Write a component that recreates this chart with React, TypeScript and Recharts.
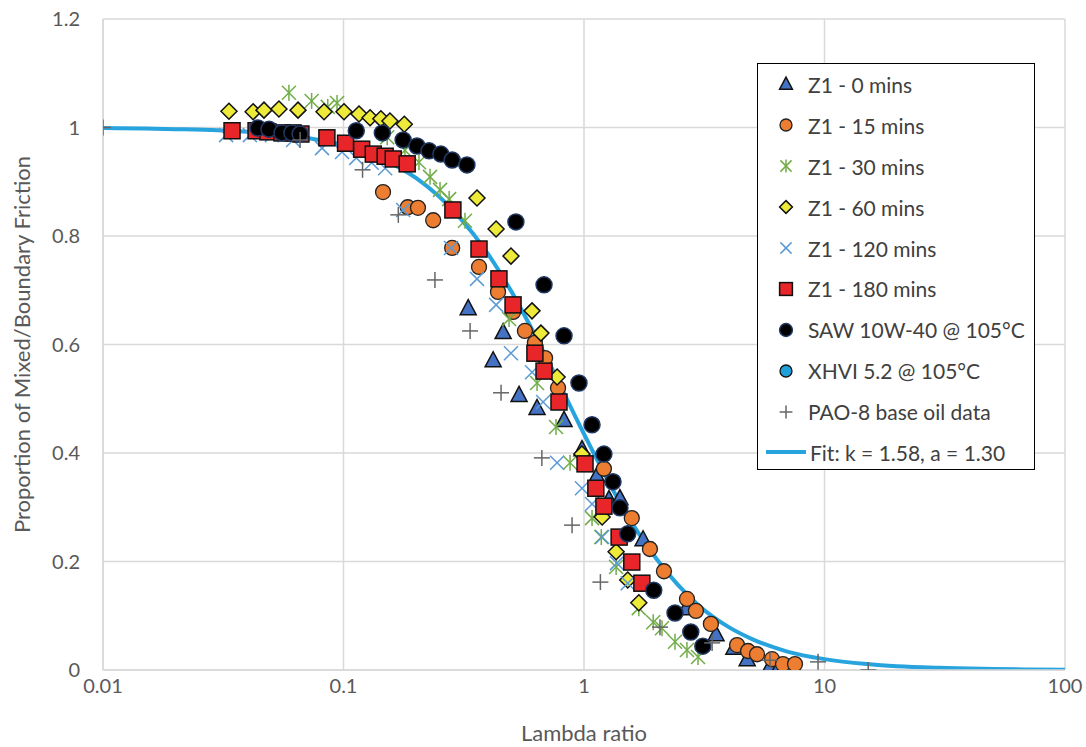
import React from 'react';
import { ComposedChart, Scatter, Line, XAxis, YAxis, CartesianGrid, Legend } from 'recharts';

// Lambda ratio (x) vs proportion of mixed/boundary friction (y)
const xTicks = [0.01, 0.1, 1, 10, 100];
const yTicks = [0, 0.2, 0.4, 0.6, 0.8, 1, 1.2];

const z1_0min = [
  { x: 0.33, y: 0.667 }, { x: 0.419, y: 0.571 }, { x: 0.461, y: 0.623 }, { x: 0.537, y: 0.507 },
  { x: 0.638, y: 0.483 }, { x: 0.826, y: 0.461 }, { x: 0.981, y: 0.407 }, { x: 1.13, y: 0.358 },
  { x: 1.27, y: 0.315 }, { x: 1.41, y: 0.317 }, { x: 1.76, y: 0.241 }, { x: 2.66, y: 0.114 },
  { x: 3.54, y: 0.066 }, { x: 4.2, y: 0.041 }, { x: 4.77, y: 0.02 }, { x: 5.94, y: 0.007 },
  { x: 6.47, y: 0.006 }, { x: 7.54, y: 0.0 },
];

const z1_15min = [
  { x: 0.146, y: 0.881 }, { x: 0.185, y: 0.853 }, { x: 0.204, y: 0.852 }, { x: 0.236, y: 0.829 },
  { x: 0.283, y: 0.778 }, { x: 0.366, y: 0.743 }, { x: 0.439, y: 0.697 }, { x: 0.507, y: 0.66 },
  { x: 0.568, y: 0.625 }, { x: 0.625, y: 0.603 }, { x: 0.689, y: 0.575 }, { x: 0.78, y: 0.52 },
  { x: 1.21, y: 0.371 }, { x: 1.58, y: 0.28 }, { x: 1.88, y: 0.223 }, { x: 2.15, y: 0.182 },
  { x: 2.68, y: 0.131 }, { x: 2.92, y: 0.109 }, { x: 3.37, y: 0.085 }, { x: 4.33, y: 0.046 },
  { x: 4.81, y: 0.035 }, { x: 5.24, y: 0.029 }, { x: 6.05, y: 0.02 }, { x: 6.72, y: 0.011 },
  { x: 7.54, y: 0.011 },
];

const z1_30min = [
  { x: 0.0593, y: 1.064 }, { x: 0.0737, y: 1.049 }, { x: 0.086, y: 1.038 }, { x: 0.094, y: 1.045 },
  { x: 0.152, y: 0.982 }, { x: 0.18, y: 0.958 }, { x: 0.206, y: 0.936 }, { x: 0.229, y: 0.909 },
  { x: 0.252, y: 0.885 }, { x: 0.275, y: 0.868 }, { x: 0.32, y: 0.828 }, { x: 0.488, y: 0.647 },
  { x: 0.638, y: 0.529 }, { x: 0.765, y: 0.448 }, { x: 0.875, y: 0.382 }, { x: 1.08, y: 0.28 },
  { x: 1.18, y: 0.245 }, { x: 1.36, y: 0.19 }, { x: 1.69, y: 0.114 }, { x: 1.94, y: 0.088 },
  { x: 2.11, y: 0.077 }, { x: 2.39, y: 0.052 }, { x: 2.68, y: 0.037 }, { x: 2.98, y: 0.024 },
];

const z1_60min = [
  { x: 0.0334, y: 1.03 }, { x: 0.0421, y: 1.029 }, { x: 0.0467, y: 1.032 }, { x: 0.0539, y: 1.034 },
  { x: 0.0647, y: 1.032 }, { x: 0.083, y: 1.029 }, { x: 0.1005, y: 1.029 }, { x: 0.116, y: 1.025 },
  { x: 0.129, y: 1.018 }, { x: 0.143, y: 1.016 }, { x: 0.156, y: 1.012 }, { x: 0.179, y: 1.006 },
  { x: 0.359, y: 0.87 }, { x: 0.431, y: 0.813 }, { x: 0.497, y: 0.763 }, { x: 0.608, y: 0.662 },
  { x: 0.662, y: 0.621 }, { x: 0.773, y: 0.54 }, { x: 0.98, y: 0.398 }, { x: 1.19, y: 0.282 },
  { x: 1.36, y: 0.218 }, { x: 1.52, y: 0.166 }, { x: 1.69, y: 0.124 },
];

const z1_120min = [
  { x: 0.0325, y: 0.986 }, { x: 0.0408, y: 0.986 }, { x: 0.0504, y: 0.986 }, { x: 0.0617, y: 0.977 },
  { x: 0.0814, y: 0.962 }, { x: 0.0986, y: 0.955 }, { x: 0.113, y: 0.944 }, { x: 0.131, y: 0.935 },
  { x: 0.149, y: 0.925 }, { x: 0.177, y: 0.848 }, { x: 0.28, y: 0.778 }, { x: 0.359, y: 0.721 },
  { x: 0.431, y: 0.673 }, { x: 0.497, y: 0.584 }, { x: 0.608, y: 0.549 }, { x: 0.676, y: 0.494 },
  { x: 0.773, y: 0.382 }, { x: 0.981, y: 0.335 }, { x: 1.08, y: 0.306 }, { x: 1.19, y: 0.245 },
  { x: 1.37, y: 0.197 }, { x: 1.52, y: 0.16 },
];

const z1_180min = [
  { x: 0.0344, y: 0.994 }, { x: 0.0433, y: 0.994 }, { x: 0.0485, y: 0.992 }, { x: 0.0555, y: 0.99 },
  { x: 0.0617, y: 0.99 }, { x: 0.0665, y: 0.988 }, { x: 0.0853, y: 0.981 }, { x: 0.102, y: 0.971 },
  { x: 0.119, y: 0.96 }, { x: 0.133, y: 0.951 }, { x: 0.149, y: 0.947 }, { x: 0.161, y: 0.942 },
  { x: 0.184, y: 0.933 }, { x: 0.285, y: 0.848 }, { x: 0.366, y: 0.776 }, { x: 0.443, y: 0.721 },
  { x: 0.507, y: 0.673 }, { x: 0.625, y: 0.584 }, { x: 0.682, y: 0.551 }, { x: 0.787, y: 0.494 },
  { x: 1.01, y: 0.38 }, { x: 1.12, y: 0.335 }, { x: 1.21, y: 0.302 }, { x: 1.4, y: 0.245 },
  { x: 1.58, y: 0.199 }, { x: 1.74, y: 0.16 },
];

const saw10w40 = [
  { x: 0.0441, y: 0.999 }, { x: 0.049, y: 0.997 }, { x: 0.0555, y: 0.99 }, { x: 0.061, y: 0.99 },
  { x: 0.066, y: 0.988 }, { x: 0.113, y: 0.994 }, { x: 0.145, y: 0.99 }, { x: 0.177, y: 0.977 },
  { x: 0.202, y: 0.966 }, { x: 0.227, y: 0.957 }, { x: 0.254, y: 0.951 }, { x: 0.283, y: 0.94 },
  { x: 0.326, y: 0.931 }, { x: 0.521, y: 0.826 }, { x: 0.682, y: 0.71 }, { x: 0.826, y: 0.616 },
  { x: 0.953, y: 0.529 }, { x: 1.08, y: 0.452 }, { x: 1.21, y: 0.398 }, { x: 1.32, y: 0.347 },
  { x: 1.41, y: 0.299 }, { x: 1.52, y: 0.251 }, { x: 1.95, y: 0.147 }, { x: 2.39, y: 0.105 },
  { x: 2.78, y: 0.07 }, { x: 3.12, y: 0.044 },
];

const xhvi52: { x: number; y: number }[] = [];

const pao8 = [
  { x: 0.01, y: 1.0 }, { x: 0.066, y: 0.977 }, { x: 0.12, y: 0.922 }, { x: 0.169, y: 0.839 },
  { x: 0.24, y: 0.719 }, { x: 0.336, y: 0.625 }, { x: 0.452, y: 0.511 }, { x: 0.668, y: 0.391 },
  { x: 0.892, y: 0.267 }, { x: 1.17, y: 0.162 }, { x: 2.07, y: 0.079 }, { x: 3.41, y: 0.05 },
  { x: 5.94, y: 0.018 }, { x: 9.4, y: 0.015 }, { x: 15.2, y: 0.0 },
];

const fitCurve = [
  { x: 0.01, y: 0.999 }, { x: 0.015, y: 0.998 }, { x: 0.02, y: 0.997 }, { x: 0.03, y: 0.995 },
  { x: 0.05, y: 0.989 }, { x: 0.07, y: 0.981 }, { x: 0.1, y: 0.967 }, { x: 0.15, y: 0.939 },
  { x: 0.2, y: 0.907 }, { x: 0.3, y: 0.837 }, { x: 0.4, y: 0.766 }, { x: 0.5, y: 0.697 },
  { x: 0.7, y: 0.575 }, { x: 1, y: 0.435 }, { x: 1.5, y: 0.288 }, { x: 2, y: 0.205 },
  { x: 3, y: 0.119 }, { x: 4, y: 0.079 }, { x: 5, y: 0.057 }, { x: 7, y: 0.034 },
  { x: 10, y: 0.02 }, { x: 15, y: 0.011 }, { x: 20, y: 0.007 }, { x: 30, y: 0.004 },
  { x: 50, y: 0.002 }, { x: 70, y: 0.001 }, { x: 100, y: 0.0005 },
];

const FONT = 'Lato, "Open Sans", sans-serif';
const GRID = '#d9d9d9';
const FIT_BLUE = '#27a3dd';

const Triangle = ({ cx, cy, s = 1 }: any) => (
  <polygon points={`${cx},${cy - 8.5 * s} ${cx - 8 * s},${cy + 6.5 * s} ${cx + 8 * s},${cy + 6.5 * s}`} fill="#4472c4" stroke="#111" strokeWidth={1.5} />
);
const OrangeDot = ({ cx, cy, s = 1 }: any) => (
  <circle cx={cx} cy={cy} r={7.5 * s} fill="#ed7d31" stroke="#222" strokeWidth={1.3} />
);
const Asterisk = ({ cx, cy, s = 1 }: any) => (
  <g stroke="#70ad47" strokeWidth={1.5}>
    <line x1={cx} y1={cy - 8 * s} x2={cx} y2={cy + 8 * s} />
    <line x1={cx - 7 * s} y1={cy - 7 * s} x2={cx + 7 * s} y2={cy + 7 * s} />
    <line x1={cx - 7 * s} y1={cy + 7 * s} x2={cx + 7 * s} y2={cy - 7 * s} />
  </g>
);
const Diamond = ({ cx, cy, s = 1 }: any) => (
  <polygon points={`${cx},${cy - 8 * s} ${cx + 8 * s},${cy} ${cx},${cy + 8 * s} ${cx - 8 * s},${cy}`} fill="#eeea3a" stroke="#111" strokeWidth={1.5} />
);
const Cross = ({ cx, cy, s = 1 }: any) => (
  <g stroke="#5b9bd5" strokeWidth={1.5}>
    <line x1={cx - 7 * s} y1={cy - 7 * s} x2={cx + 7 * s} y2={cy + 7 * s} />
    <line x1={cx - 7 * s} y1={cy + 7 * s} x2={cx + 7 * s} y2={cy - 7 * s} />
  </g>
);
const Square = ({ cx, cy, s = 1 }: any) => (
  <rect x={cx - 8 * s} y={cy - 8 * s} width={16 * s} height={16 * s} fill="#e8262a" stroke="#111" strokeWidth={1.5} />
);
const BlackDot = ({ cx, cy, s = 1 }: any) => (
  <circle cx={cx} cy={cy} r={8 * s} fill="#000" stroke="#1f3864" strokeWidth={1.5} />
);
const BlueDot = ({ cx, cy, s = 1 }: any) => (
  <circle cx={cx} cy={cy} r={7.5 * s} fill="#1ea0db" stroke="#111" strokeWidth={1.3} />
);
const Plus = ({ cx, cy, s = 1 }: any) => (
  <g stroke="#666" strokeWidth={1.5}>
    <line x1={cx - 8 * s} y1={cy} x2={cx + 8 * s} y2={cy} />
    <line x1={cx} y1={cy - 8 * s} x2={cx} y2={cy + 8 * s} />
  </g>
);

const legendRows = [
  { name: 'Z1 - 0 mins', Icon: Triangle },
  { name: 'Z1 - 15 mins', Icon: OrangeDot },
  { name: 'Z1 - 30 mins', Icon: Asterisk },
  { name: 'Z1 - 60 mins', Icon: Diamond },
  { name: 'Z1 - 120 mins', Icon: Cross },
  { name: 'Z1 - 180 mins', Icon: Square },
  { name: 'SAW 10W-40 @ 105°C', Icon: BlackDot },
  { name: 'XHVI 5.2 @ 105°C', Icon: BlueDot },
  { name: 'PAO-8 base oil data', Icon: Plus },
];

const renderLegend = () => (
  <div style={{ width: 276, height: 405, border: '1px solid #000', background: '#fff', fontFamily: FONT, fontSize: 21, color: '#404040' }}>
    {legendRows.map(({ name, Icon }) => (
      <div key={name} style={{ height: 40.9, display: 'flex', alignItems: 'center' }}>
        <svg width={50} height={40} style={{ flex: 'none' }}>
          <Icon cx={28} cy={20} s={0.8} />
        </svg>
        <span>{name}</span>
      </div>
    ))}
    <div style={{ height: 40.9, display: 'flex', alignItems: 'center' }}>
      <svg width={52} height={40} style={{ flex: 'none' }}>
        <line x1={8} y1={20} x2={48} y2={20} stroke={FIT_BLUE} strokeWidth={4} />
      </svg>
      <span>Fit: k = 1.58, a = 1.30</span>
    </div>
  </div>
);

const tickStyle = { fill: '#595959', fontSize: 20, fontFamily: FONT };
const titleStyle = { fill: '#595959', fontSize: 22, fontFamily: FONT };

export default function App() {
  return (
    <div style={{ position: 'absolute', left: 0, top: 0, background: '#fff' }}>
      <ComposedChart width={1086} height={747} margin={{ top: 19, right: 21, bottom: 0, left: 0 }}>
        <CartesianGrid stroke={GRID} strokeWidth={1.5} />
        <XAxis
          type="number"
          dataKey="x"
          scale="log"
          domain={[0.01, 100]}
          ticks={xTicks}
          allowDataOverflow
          height={77}
          axisLine={{ stroke: GRID, strokeWidth: 1.5 }}
          tickLine={false}
          tickSize={0}
          tickMargin={9}
          tick={tickStyle}
          label={{ value: 'Lambda ratio', position: 'insideBottom', offset: 6, style: titleStyle }}
        />
        <YAxis
          type="number"
          dataKey="y"
          domain={[0, 1.2]}
          ticks={yTicks}
          allowDataOverflow
          width={103}
          axisLine={{ stroke: GRID, strokeWidth: 1.5 }}
          tickLine={false}
          tickSize={0}
          tickMargin={23}
          tick={tickStyle}
          label={{ value: 'Proportion of Mixed/Boundary Friction', angle: -90, position: 'insideLeft', offset: 22, style: { ...titleStyle, textAnchor: 'middle' } }}
        />
        <Line data={fitCurve} dataKey="y" type="monotone" stroke={FIT_BLUE} strokeWidth={4} dot={false} activeDot={false} isAnimationActive={false} />
        <Scatter name="Z1 - 0 mins" data={z1_0min} shape={(p: any) => <Triangle cx={p.cx} cy={p.cy} />} isAnimationActive={false} />
        <Scatter name="Z1 - 15 mins" data={z1_15min} shape={(p: any) => <OrangeDot cx={p.cx} cy={p.cy} />} isAnimationActive={false} />
        <Scatter name="Z1 - 30 mins" data={z1_30min} shape={(p: any) => <Asterisk cx={p.cx} cy={p.cy} />} isAnimationActive={false} />
        <Scatter name="Z1 - 60 mins" data={z1_60min} shape={(p: any) => <Diamond cx={p.cx} cy={p.cy} />} isAnimationActive={false} />
        <Scatter name="Z1 - 120 mins" data={z1_120min} shape={(p: any) => <Cross cx={p.cx} cy={p.cy} />} isAnimationActive={false} />
        <Scatter name="Z1 - 180 mins" data={z1_180min} shape={(p: any) => <Square cx={p.cx} cy={p.cy} />} isAnimationActive={false} />
        <Scatter name="SAW 10W-40 @ 105°C" data={saw10w40} shape={(p: any) => <BlackDot cx={p.cx} cy={p.cy} />} isAnimationActive={false} />
        <Scatter name="XHVI 5.2 @ 105°C" data={xhvi52} shape={(p: any) => <BlueDot cx={p.cx} cy={p.cy} />} isAnimationActive={false} />
        <Scatter name="PAO-8 base oil data" data={pao8} shape={(p: any) => <Plus cx={p.cx} cy={p.cy} />} isAnimationActive={false} />
        <Legend
          layout="horizontal"
          align="center"
          verticalAlign="middle"
          content={renderLegend}
          wrapperStyle={{ left: 757, top: 63, width: 278, height: 407 }}
        />
      </ComposedChart>
    </div>
  );
}
